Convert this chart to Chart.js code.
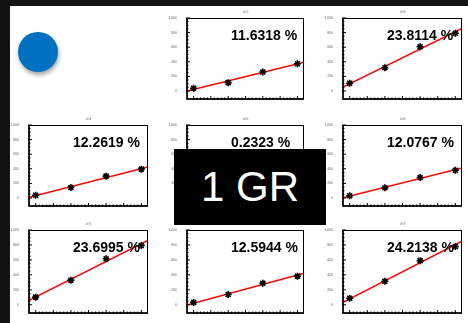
<!DOCTYPE html>
<html>
<head>
<meta charset="utf-8">
<script src="https://cdn.jsdelivr.net/npm/chart.js@4.4.1/dist/chart.umd.min.js"></script>
<style>
  html, body { margin: 0; padding: 0; }
  body { width: 468px; height: 323px; background: #131313; position: relative; overflow: hidden;
         font-family: "Liberation Sans", Arial, sans-serif; }
  #sheet { position: absolute; left: 10px; top: 6px; width: 458px; height: 317px; background: #fff; }
  .dot { position: absolute; left: 18px; top: 32px; width: 40px; height: 40px; border-radius: 50%;
         background: #0070c0; box-shadow: 1px 3px 4px rgba(0, 0, 0, 0.35); }
  .gr { position: absolute; left: 174px; top: 149px; width: 152px; height: 76px; background: #000;
        color: #fff; font-size: 42px; line-height: 76px; text-align: center; z-index: 5; }
  canvas.pad { position: absolute; }
</style>
</head>
<body>
<div id="sheet"></div>
<div class="dot"></div>
<div id="pads"></div>
<div class="gr">1 GR</div>

<script>
// HV scan per channel: measured amplitude at each voltage, plus fitted gain (%)
const channels = ['ch2', 'ch3', 'ch4', 'ch5', 'ch6', 'ch7', 'ch8', 'ch9'];
const voltages = [1000, 2000, 3000, 4000];
const ch2 = [38, 114, 260, 373];
const ch3 = [106, 319, 605, 790];
const ch4 = [37, 143, 299, 395];
const ch5 = [150, 152, 155, 157];
const ch6 = [30, 139, 280, 379];
const ch7 = [102, 329, 615, 792];
const ch8 = [32, 137, 287, 383];
const ch9 = [87, 314, 590, 780];
const amplitudes = [ch2, ch3, ch4, ch5, ch6, ch7, ch8, ch9];
const gainPct = [11.6318, 23.8114, 12.2619, 0.2323, 12.0767, 23.6995, 12.5944, 24.2138];

const xTicks = [1000, 1500, 2000, 2500, 3000, 3500, 4000];
const yTicks = [0, 200, 400, 600, 800, 1000];
const xRange = [810, 4190];
const yRange = [-110, 1000];

// frame boxes (left, top, width, height) of the 3x3 grid, first cell is empty
const colX = [29, 187, 343];
const colW = [119, 117, 119];
const rowY = [18, 125, 230];
const rowH = [81, 81, 83];

const PAD_L = 20, PAD_T = 14, PAD_R = 6, PAD_B = 8;

// frame, ROOT-like ticks, pad title and gain label
const padDecor = {
  id: 'padDecor',
  afterDatasetsDraw(chart, args, opts) {
    const { ctx, chartArea: a, scales: { x, y } } = chart;
    ctx.save();
    ctx.strokeStyle = '#000';
    ctx.lineWidth = 1;
    ctx.strokeRect(a.left, a.top + 0.5, a.width - 0.5, a.height - 0.5);

    ctx.lineWidth = 1.5;
    ctx.beginPath();
    ctx.moveTo(a.left, a.top); ctx.lineTo(a.left, a.bottom);
    ctx.lineTo(a.right, a.bottom);
    ctx.stroke();

    ctx.lineWidth = 1;
    ctx.beginPath();
    for (let i = 0; i < xTicks.length; i++) {
      const px = x.getPixelForValue(xTicks[i]);
      ctx.moveTo(px, a.bottom + 1); ctx.lineTo(px, a.bottom - 3);
      if (i < xTicks.length - 1) {
        const step = (xTicks[i + 1] - xTicks[i]) / 5;
        for (let k = 1; k < 5; k++) {
          const mx = x.getPixelForValue(xTicks[i] + k * step);
          ctx.moveTo(mx, a.bottom + 1); ctx.lineTo(mx, a.bottom - 1.5);
        }
      }
    }
    for (let i = 0; i < yTicks.length; i++) {
      const py = y.getPixelForValue(yTicks[i]);
      ctx.moveTo(a.left - 1, py); ctx.lineTo(a.left + 3, py);
      if (i < yTicks.length - 1) {
        const step = (yTicks[i + 1] - yTicks[i]) / 4;
        for (let k = 1; k < 4; k++) {
          const my = y.getPixelForValue(yTicks[i] + k * step);
          ctx.moveTo(a.left - 1, my); ctx.lineTo(a.left + 1.5, my);
        }
      }
    }
    ctx.stroke();

    ctx.fillStyle = '#666';
    ctx.font = '3.5px "Liberation Sans", Arial, sans-serif';
    ctx.textAlign = 'center';
    ctx.fillText(opts.name, (a.left + a.right) / 2, a.top - 5);

    ctx.fillStyle = '#000';
    ctx.font = 'bold 14px "Liberation Sans", Arial, sans-serif';
    ctx.textAlign = 'left';
    ctx.fillText(opts.pct.toFixed(4) + ' %', a.left + 44, a.top + 22);
    ctx.restore();
  }
};

const pads = document.getElementById('pads');

channels.forEach((name, i) => {
  const cell = i + 1;
  const c = cell % 3, r = Math.floor(cell / 3);
  const fw = colW[c], fh = rowH[r];

  const cv = document.createElement('canvas');
  cv.className = 'pad';
  cv.width = fw + PAD_L + PAD_R;
  cv.height = fh + PAD_T + PAD_B;
  cv.style.left = (colX[c] - PAD_L) + 'px';
  cv.style.top = (rowY[r] - PAD_T) + 'px';
  pads.appendChild(cv);

  const vals = amplitudes[i];
  const points = voltages.map((v, k) => ({ x: v, y: vals[k] }));

  // straight-line fit: slope from the quoted gain, through the mean point
  const slope = gainPct[i] / 100;
  const mx = voltages.reduce((s, v) => s + v, 0) / voltages.length;
  const my = vals.reduce((s, v) => s + v, 0) / vals.length;
  const fit = xRange.map(v => ({ x: v, y: my + slope * (v - mx) }));

  const tickFont = { family: '"Liberation Sans", Arial, sans-serif', size: 3.5 };

  new Chart(cv, {
    type: 'scatter',
    data: {
      datasets: [
        { data: points, pointStyle: 'star', pointRadius: 3.5, borderColor: '#000',
          backgroundColor: '#000', borderWidth: 1.6, order: 0 },
        { type: 'line', data: fit, borderColor: '#ff0000', borderWidth: 1.5,
          pointRadius: 0, showLine: true, fill: false, order: 1 }
      ]
    },
    options: {
      responsive: false,
      animation: false,
      devicePixelRatio: 1,
      events: [],
      layout: { padding: { left: 0, top: PAD_T, right: PAD_R, bottom: 0 } },
      plugins: {
        legend: { display: false },
        tooltip: { enabled: false },
        padDecor: { name: name, pct: gainPct[i] }
      },
      scales: {
        x: {
          type: 'linear', min: xRange[0], max: xRange[1],
          afterBuildTicks: s => { s.ticks = xTicks.map(v => ({ value: v })); },
          afterFit: s => { s.height = PAD_B; },
          grid: { display: false }, border: { display: false },
          ticks: { font: tickFont, color: '#666', padding: 1, maxRotation: 0, autoSkip: false }
        },
        y: {
          type: 'linear', min: yRange[0], max: yRange[1],
          afterBuildTicks: s => { s.ticks = yTicks.map(v => ({ value: v })); },
          afterFit: s => { s.width = PAD_L; },
          grid: { display: false }, border: { display: false },
          ticks: { font: tickFont, color: '#666', padding: 2, autoSkip: false }
        }
      }
    },
    plugins: [padDecor]
  });
});
</script>
</body>
</html>
